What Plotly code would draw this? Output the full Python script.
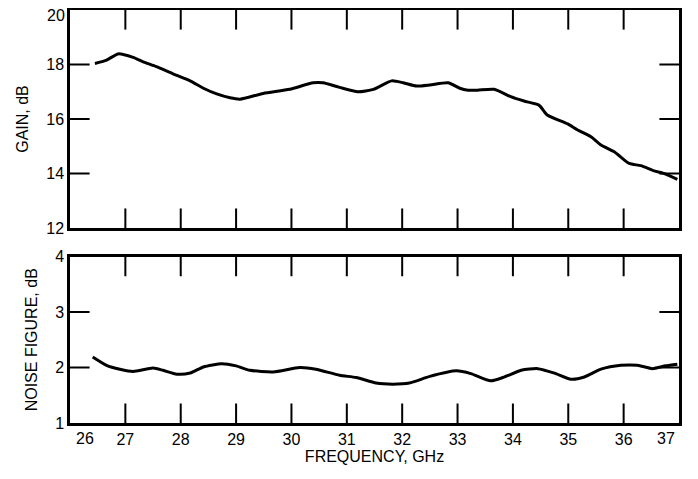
import plotly.graph_objects as go

# Gain curve (GHz, dB)
gain_freq = [26.45, 26.65, 26.87, 27.14, 27.32, 27.56, 27.87, 28.17, 28.41, 28.65, 28.89, 29.07,
             29.49, 29.97, 30.39, 30.57, 30.87, 31.2, 31.48, 31.81, 32.02, 32.26, 32.5, 32.83,
             33.04, 33.19, 33.36, 33.66, 33.96, 34.2, 34.47, 34.62, 34.99, 35.17, 35.41, 35.59,
             35.83, 36.1, 36.31, 36.55, 36.76, 36.97]
gain_db = [18.04, 18.15, 18.39, 18.26, 18.1, 17.92, 17.65, 17.4, 17.13, 16.92, 16.78, 16.73,
           16.94, 17.09, 17.33, 17.33, 17.16, 17.0, 17.09, 17.4, 17.33, 17.21, 17.25, 17.33,
           17.13, 17.06, 17.06, 17.09, 16.82, 16.66, 16.51, 16.15, 15.82, 15.6, 15.35, 15.05,
           14.8, 14.37, 14.29, 14.1, 13.98, 13.79]

# Noise figure curve (GHz, dB)
nf_freq = [26.41, 26.66, 26.9, 27.14, 27.5, 27.68, 27.93, 28.17, 28.41, 28.74, 29.0, 29.25,
           29.67, 30.15, 30.44, 30.87, 31.17, 31.53, 31.83, 32.13, 32.5, 32.98, 33.24, 33.6,
           33.85, 34.15, 34.45, 34.75, 35.05, 35.29, 35.59, 35.95, 36.25, 36.52, 36.76, 36.97]
nf_db = [2.19, 2.04, 1.97, 1.93, 1.99, 1.95, 1.88, 1.9, 2.01, 2.07, 2.03, 1.95,
         1.92, 2.0, 1.97, 1.86, 1.82, 1.72, 1.7, 1.72, 1.84, 1.94, 1.89, 1.76,
         1.83, 1.95, 1.98, 1.9, 1.79, 1.83, 1.97, 2.04, 2.04, 1.98, 2.03, 2.06]

x_ticks = list(range(26, 38))
x_tick_labels = [str(v) for v in x_ticks]
gain_ticks = [12, 14, 16, 18, 20]
gain_tick_labels = [str(v) for v in gain_ticks]
nf_ticks = [1, 2, 3, 4]
nf_tick_labels = [str(v) for v in nf_ticks]

FONT = "Liberation Sans, Arial, Helvetica, sans-serif"

# the end labels sit inside the frame in the original drawing: they are drawn
# on overlay axes with a label shift; the main axis leaves them blank
x_text = [""] + x_tick_labels[1:-1] + [""]
gain_text = gain_tick_labels[:-1] + [""]

fig = go.Figure()
fig.add_trace(go.Scatter(x=gain_freq, y=gain_db, mode="lines", xaxis="x2", yaxis="y2",
                         line=dict(color="black", width=3, shape="spline", smoothing=0.6),
                         showlegend=False, hoverinfo="skip"))
fig.add_trace(go.Scatter(x=nf_freq, y=nf_db, mode="lines", xaxis="x", yaxis="y",
                         line=dict(color="black", width=3, shape="spline", smoothing=0.6),
                         showlegend=False, hoverinfo="skip"))

# inward tick marks on all four sides of each panel (clipped to the plot area)
def tick_traces(xa_v, xa_h, ya, yt):
    inner_x = x_ticks[1:-1]
    inner_y = yt[1:-1]
    vx = inner_x + inner_x
    vy = [yt[0]] * len(inner_x) + [yt[-1]] * len(inner_x)
    hx = [x_ticks[0]] * len(inner_y) + [x_ticks[-1]] * len(inner_y)
    hy = inner_y + inner_y
    mk = dict(size=28, color="black", line=dict(color="black", width=2))
    fig.add_trace(go.Scatter(x=vx, y=vy, mode="markers", xaxis=xa_v, yaxis=ya, cliponaxis=True,
                             marker=dict(symbol="line-ns", **mk), showlegend=False, hoverinfo="skip"))
    fig.add_trace(go.Scatter(x=hx, y=hy, mode="markers", xaxis=xa_h, yaxis=ya, cliponaxis=True,
                             marker=dict(symbol="line-ew", **mk), showlegend=False, hoverinfo="skip"))

tick_traces("x2", "x2", "y2", gain_ticks)
tick_traces("x3", "x4", "y", nf_ticks)

def ax(**kw):
    d = dict(showline=True, linecolor="black", linewidth=2.5, mirror=True,
             ticks="", showgrid=False, zeroline=False, automargin=False,
             tickmode="array", ticklabelstandoff=0, ticklabeloverflow="allow",
             tickfont=dict(family=FONT, size=16, color="black"))
    d.update(kw)
    return d

def overlay_x(val, label, shift):
    return dict(overlaying="x", anchor="y", side="bottom", range=[x_ticks[0], x_ticks[-1]],
                showline=False, ticks="", showgrid=False, zeroline=False, automargin=False,
                tickmode="array", tickvals=[val], ticktext=[label], ticklabelshift=shift,
                ticklabelstandoff=4, ticklabeloverflow="allow",
                tickfont=dict(family=FONT, size=16, color="black"))

fig.update_layout(
    template="none",
    width=690, height=471,
    margin=dict(l=62, r=19, t=2, b=56),
    paper_bgcolor="white", plot_bgcolor="white",
    font=dict(family=FONT, color="black"),
    showlegend=False,
    xaxis=ax(range=[26, 37], tickvals=x_ticks, ticktext=x_text, anchor="y",
             title=dict(text="FREQUENCY, GHz", font=dict(family=FONT, size=16), standoff=4)),
    xaxis2=ax(range=[26, 37], tickvals=x_ticks, anchor="y2", showticklabels=False),
    xaxis3=overlay_x(x_ticks[0], x_tick_labels[0], 15),
    xaxis4=overlay_x(x_ticks[-1], x_tick_labels[-1], -13),
    yaxis=ax(range=[1, 4], tickvals=nf_ticks, ticktext=nf_tick_labels, domain=[0, 0.403], anchor="x",
             title=dict(text="NOISE FIGURE, dB", font=dict(family=FONT, size=16), standoff=14)),
    yaxis2=ax(range=[12, 20], tickvals=gain_ticks, ticktext=gain_text, domain=[0.472, 1], anchor="x2",
              title=dict(text="GAIN, dB", font=dict(family=FONT, size=16), standoff=14)),
    annotations=[dict(text=gain_tick_labels[-1], xref="x2 domain", x=0, yref="y2", y=gain_ticks[-1],
                      xanchor="right", yanchor="middle", xshift=-3, yshift=-5, showarrow=False,
                      font=dict(family=FONT, size=16, color="black"))],
)

fig.write_html("out.html")
